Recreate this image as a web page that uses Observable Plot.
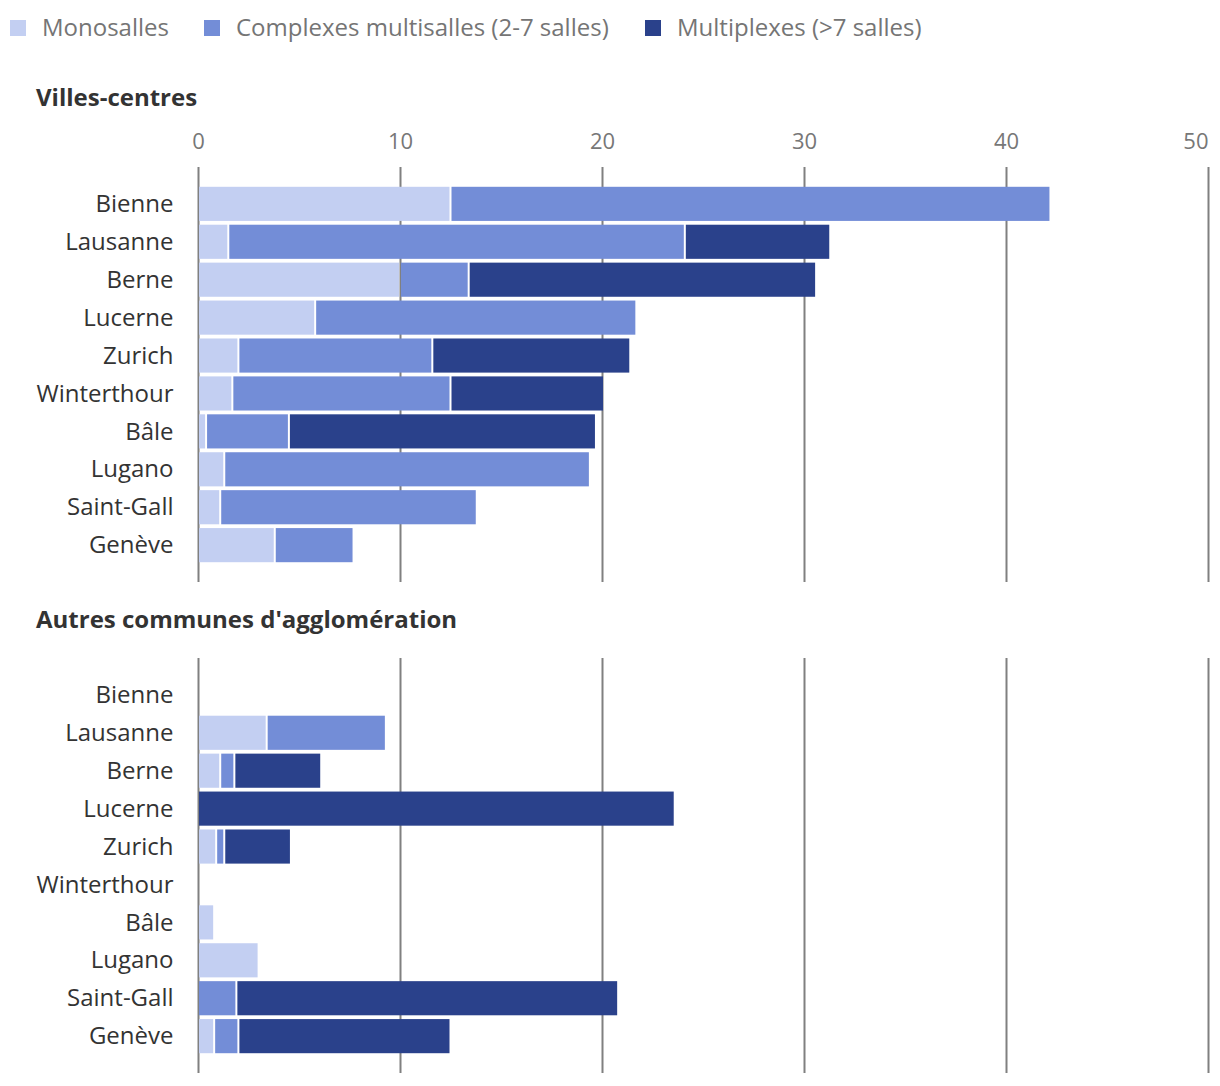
<!DOCTYPE html>
<html>
<head>
<meta charset="utf-8">
<script src="https://cdn.jsdelivr.net/npm/d3@7"></script>
<script src="https://cdn.jsdelivr.net/npm/@observablehq/plot@0.6"></script>
<style>
  html, body { margin: 0; padding: 0; background: #fff; }
  body { width: 1220px; height: 1086px; position: relative; font-family: "Open Sans", "Noto Sans", sans-serif; overflow: hidden; }
  .legend { position: absolute; left: 0; top: 0; height: 55px; width: 1220px; }
  .item { position: absolute; top: 10px; font-size: 24px; color: #757575; line-height: 34px; white-space: nowrap; }
  .sw { position: absolute; top: 20px; width: 16px; height: 16px; }
  .title { position: absolute; left: 36px; font-size: 24px; font-weight: 700; color: #333; line-height: 30px; white-space: nowrap; }
  .panel { position: absolute; left: 0; }
  svg { overflow: visible; }
</style>
</head>
<body>
<div class="legend" id="legend"></div>
<div class="title" style="top:82px">Villes-centres</div>
<div class="title" style="top:604px">Autres communes d'agglomération</div>
<div class="panel" id="p1" style="top:110px"></div>
<div class="panel" id="p2" style="top:640px"></div>
<script>
const cities = ["Bienne","Lausanne","Berne","Lucerne","Zurich","Winterthour","Bâle","Lugano","Saint-Gall","Genève"];
const types = ["Monosalles","Complexes multisalles (2-7 salles)","Multiplexes (>7 salles)"];
const colors = ["#c3cff2","#738dd7","#2a418b"];
const xTicks = [0,10,20,30,40,50];

// Villes-centres
const monoCentres      = [12.5, 1.5, 10.0, 5.8, 2.0, 1.7, 0.4, 1.3, 1.1, 3.8];
const complexesCentres = [29.7, 22.6, 3.4, 15.9, 9.6, 10.8, 4.1, 18.1, 12.7, 3.9];
const multiCentres     = [0, 7.2, 17.2, 0, 9.8, 7.6, 15.2, 0, 0, 0];

// Autres communes d'agglomération
const monoAutres      = [0, 3.4, 1.1, 0, 0.9, 0, 0.8, 3.0, 0, 0.8];
const complexesAutres = [0, 5.9, 0.7, 0, 0.4, 0, 0, 0, 1.9, 1.2];
const multiAutres     = [0, 0, 4.3, 23.6, 3.3, 0, 0, 0, 18.9, 10.5];

function rows(series) {
  const out = [];
  cities.forEach((c, i) => {
    series.forEach((s, k) => {
      if (s[i] > 0) out.push({city: c, type: types[k], value: s[i]});
    });
  });
  return out;
}

// legend
const legend = document.getElementById("legend");
const legendX = [{sw: 10, tx: 42}, {sw: 204, tx: 236}, {sw: 645, tx: 677}];
types.forEach((t, k) => {
  const sw = document.createElement("div");
  sw.className = "sw"; sw.style.left = legendX[k].sw + "px"; sw.style.background = colors[k];
  legend.appendChild(sw);
  const tx = document.createElement("div");
  tx.className = "item"; tx.style.left = legendX[k].tx + "px"; tx.textContent = t;
  legend.appendChild(tx);
});

function panel(data, showTicks, marginTop, height) {
  const marks = [
    Plot.ruleX(xTicks, {stroke: "#808080", strokeWidth: 2}),
    Plot.barX(data, Plot.stackX({x: "value", y: "city", fill: "type", insetLeft: 1, insetRight: 1})),
    Plot.axisY({tickSize: 0, tickPadding: 25, fontSize: 24, fill: "#333", label: null})
  ];
  if (showTicks) {
    marks.push(Plot.axisX({anchor: "top", ticks: xTicks.slice(0, 5), tickSize: 0, tickPadding: 19, fontSize: 22, fill: "#777", label: null, tickFormat: d => String(d)}));
    marks.push(Plot.axisX({anchor: "top", ticks: [50], tickSize: 0, tickPadding: 19, fontSize: 22, fill: "#777", label: null, textAnchor: "end", tickFormat: d => String(d)}));
  } else {
    marks.push(Plot.axisX({anchor: "top", ticks: [], label: null}));
  }
  return Plot.plot({
    width: 1220,
    height: height,
    marginLeft: 198,
    marginRight: 12,
    marginTop: marginTop,
    marginBottom: 4,
    style: {fontFamily: "'Open Sans', 'Noto Sans', sans-serif", background: "transparent", overflow: "visible"},
    x: {domain: [0, 50]},
    y: {domain: cities, padding: 0.1, insetTop: 16, insetBottom: 16, round: false},
    color: {domain: types, range: colors},
    marks
  });
}

document.getElementById("p1").appendChild(panel(rows([monoCentres, complexesCentres, multiCentres]), true, 57, 476));
document.getElementById("p2").appendChild(panel(rows([monoAutres, complexesAutres, multiAutres]), false, 18, 437));
</script>
</body>
</html>
